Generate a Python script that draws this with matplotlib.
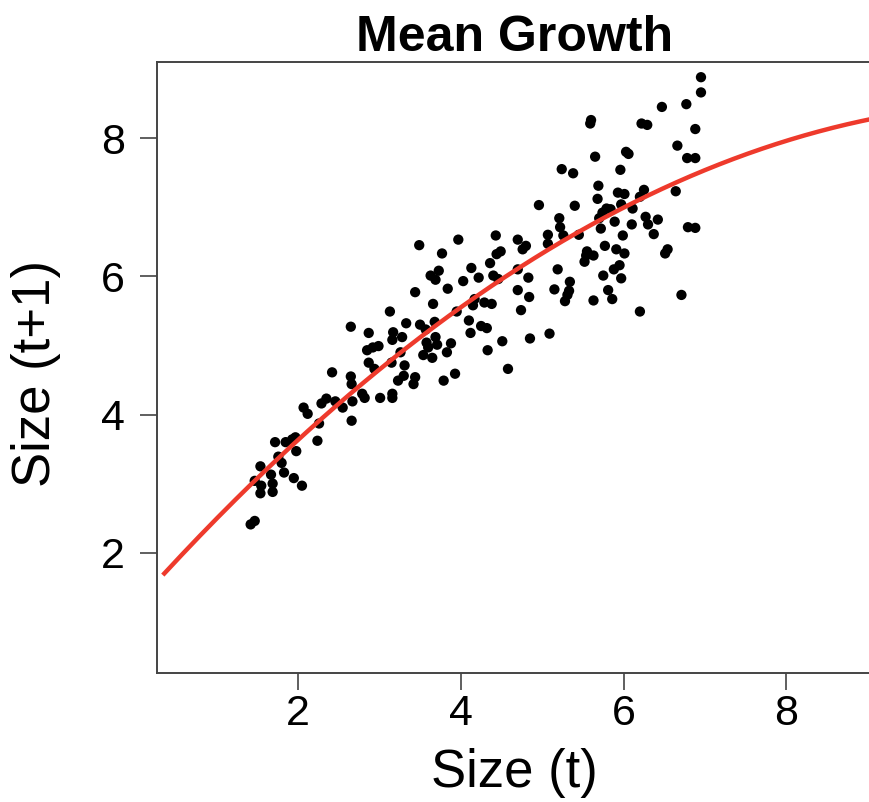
import numpy as np
import matplotlib.pyplot as plt

plt.rcParams['font.family'] = ['Liberation Sans', 'DejaVu Sans']

# observed size at time t and t+1
size_t = [1.42, 1.47, 1.47, 1.54, 1.55, 1.54, 1.67, 1.69, 1.69, 1.72, 1.76, 1.80, 1.83,
          1.85, 1.93, 1.97, 1.95, 1.98, 2.05, 2.07, 2.12, 2.24, 2.26, 2.29, 2.35, 2.42,
          2.46, 2.55, 2.65, 2.65, 2.66, 2.66, 2.67, 2.79, 2.82, 2.87, 2.87, 2.85, 2.92,
          2.99, 2.94, 3.01, 3.13, 3.15, 3.16, 3.17, 3.16, 3.16, 3.23, 3.26, 3.28, 3.30,
          3.31, 3.33, 3.42, 3.44, 3.44, 3.49, 3.50, 3.54, 3.57, 3.58, 3.60, 3.63, 3.65,
          3.66, 3.68, 3.69, 3.69, 3.71, 3.73, 3.77, 3.79, 3.84, 3.83, 3.88, 3.93, 3.97,
          3.95, 4.03, 4.10, 4.12, 4.13, 4.15, 4.17, 4.22, 4.25, 4.29, 4.32, 4.33, 4.36,
          4.38, 4.43, 4.40, 4.44, 4.46, 4.49, 4.51, 4.58, 4.70, 4.70, 4.70, 4.74, 4.76,
          4.80, 4.83, 4.84, 4.85, 4.96, 5.09, 5.07, 5.07, 5.15, 5.19, 5.21, 5.22, 5.24,
          5.26, 5.28, 5.31, 5.33, 5.34, 5.38, 5.40, 5.45, 5.52, 5.54, 5.55, 5.59, 5.60,
          5.63, 5.63, 5.65, 5.68, 5.69, 5.70, 5.72, 5.74, 5.77, 5.75, 5.79, 5.81, 5.84,
          5.86, 5.89, 5.88, 5.91, 5.93, 5.95, 5.96, 5.97, 5.97, 5.99, 6.01, 6.01, 6.03,
          6.06, 6.10, 6.11, 6.20, 6.20, 6.22, 6.25, 6.27, 6.29, 6.30, 6.37, 6.42, 6.47,
          6.51, 6.54, 6.64, 6.66, 6.71, 6.77, 6.78, 6.79, 6.88, 6.88, 6.88, 6.95, 6.95]
size_t1 = [2.41, 2.46, 3.04, 3.25, 2.97, 2.86, 3.13, 3.00, 2.88, 3.60, 3.39, 3.30, 3.16,
           3.60, 3.64, 3.67, 3.08, 3.47, 2.97, 4.10, 4.01, 3.62, 3.87, 4.16, 4.23, 4.61,
           4.19, 4.10, 5.27, 4.55, 4.44, 3.91, 4.19, 4.30, 4.24, 5.18, 4.75, 4.93, 4.97,
           4.99, 4.66, 4.24, 5.49, 4.75, 5.08, 5.19, 4.30, 4.24, 4.49, 4.90, 5.12, 4.56,
           4.71, 5.32, 4.44, 4.54, 5.77, 6.45, 5.30, 4.86, 5.23, 5.04, 4.97, 6.01, 4.82,
           5.60, 5.34, 5.12, 5.95, 5.01, 6.08, 6.33, 4.49, 5.82, 4.90, 5.03, 4.59, 6.53,
           5.49, 5.93, 5.36, 5.18, 6.12, 5.58, 5.67, 5.98, 5.28, 5.62, 5.25, 4.93, 6.19,
           5.60, 6.59, 6.01, 6.32, 5.96, 6.36, 5.06, 4.66, 6.53, 6.10, 5.80, 5.51, 6.39,
           6.44, 5.98, 5.70, 5.10, 7.03, 5.17, 6.47, 6.60, 5.81, 6.10, 6.84, 6.71, 7.55,
           6.59, 5.64, 5.73, 5.79, 5.92, 7.49, 7.02, 6.60, 6.21, 6.30, 6.36, 8.21, 8.26,
           5.65, 6.30, 7.73, 7.12, 7.31, 6.84, 6.69, 6.92, 6.44, 6.01, 6.98, 5.80, 6.97,
           5.67, 6.79, 6.10, 6.39, 7.21, 6.16, 7.54, 7.04, 5.97, 6.59, 7.19, 6.33, 7.80,
           7.77, 6.75, 6.98, 5.49, 7.15, 8.21, 7.25, 6.86, 8.19, 6.75, 6.61, 6.82, 8.45,
           6.33, 6.39, 7.23, 7.89, 5.73, 8.49, 7.71, 6.71, 7.71, 6.70, 8.13, 8.88, 8.66]

# quadratic mean growth curve: a + b*x + c*x^2
coef = [1.2335, 1.3174, -0.05957]
curve_x = np.linspace(0.36, 9.05, 200)
curve_y = coef[0] + coef[1] * curve_x + coef[2] * curve_x ** 2

fig = plt.figure(figsize=(8.69, 8.02), dpi=100)
ax = fig.add_axes([157 / 869, 1 - 673 / 802, 715 / 869, 611 / 802])

ax.scatter(size_t, size_t1, s=55, color='black', edgecolors='none', zorder=3)
ax.plot(curve_x, curve_y, color='#EE3A2C', lw=3.2, zorder=4)

ax.set_xlim(0.27, 9.05)
ax.set_ylim(0.26, 9.1)
ax.set_xticks([2, 4, 6, 8])
ax.set_yticks([2, 4, 6, 8])
ax.tick_params(labelsize=31, length=12, width=1.2, color='#444444')
ax.tick_params(axis='x', pad=3)
ax.tick_params(axis='y', pad=11)
for s in ax.spines.values():
    s.set_linewidth(1.4)
    s.set_color('#444444')

ax.set_xlabel('Size (t)', fontsize=38, va='baseline')
ax.xaxis.set_label_coords(0.5, -114 / 611)
ax.set_ylabel('Size (t+1)', fontsize=38, va='center')
ax.yaxis.set_label_coords(-121 / 715, 0.49)
ax.set_title('Mean Growth', fontsize=36, fontweight='bold', pad=8)

fig.savefig('out.png', dpi=100)
